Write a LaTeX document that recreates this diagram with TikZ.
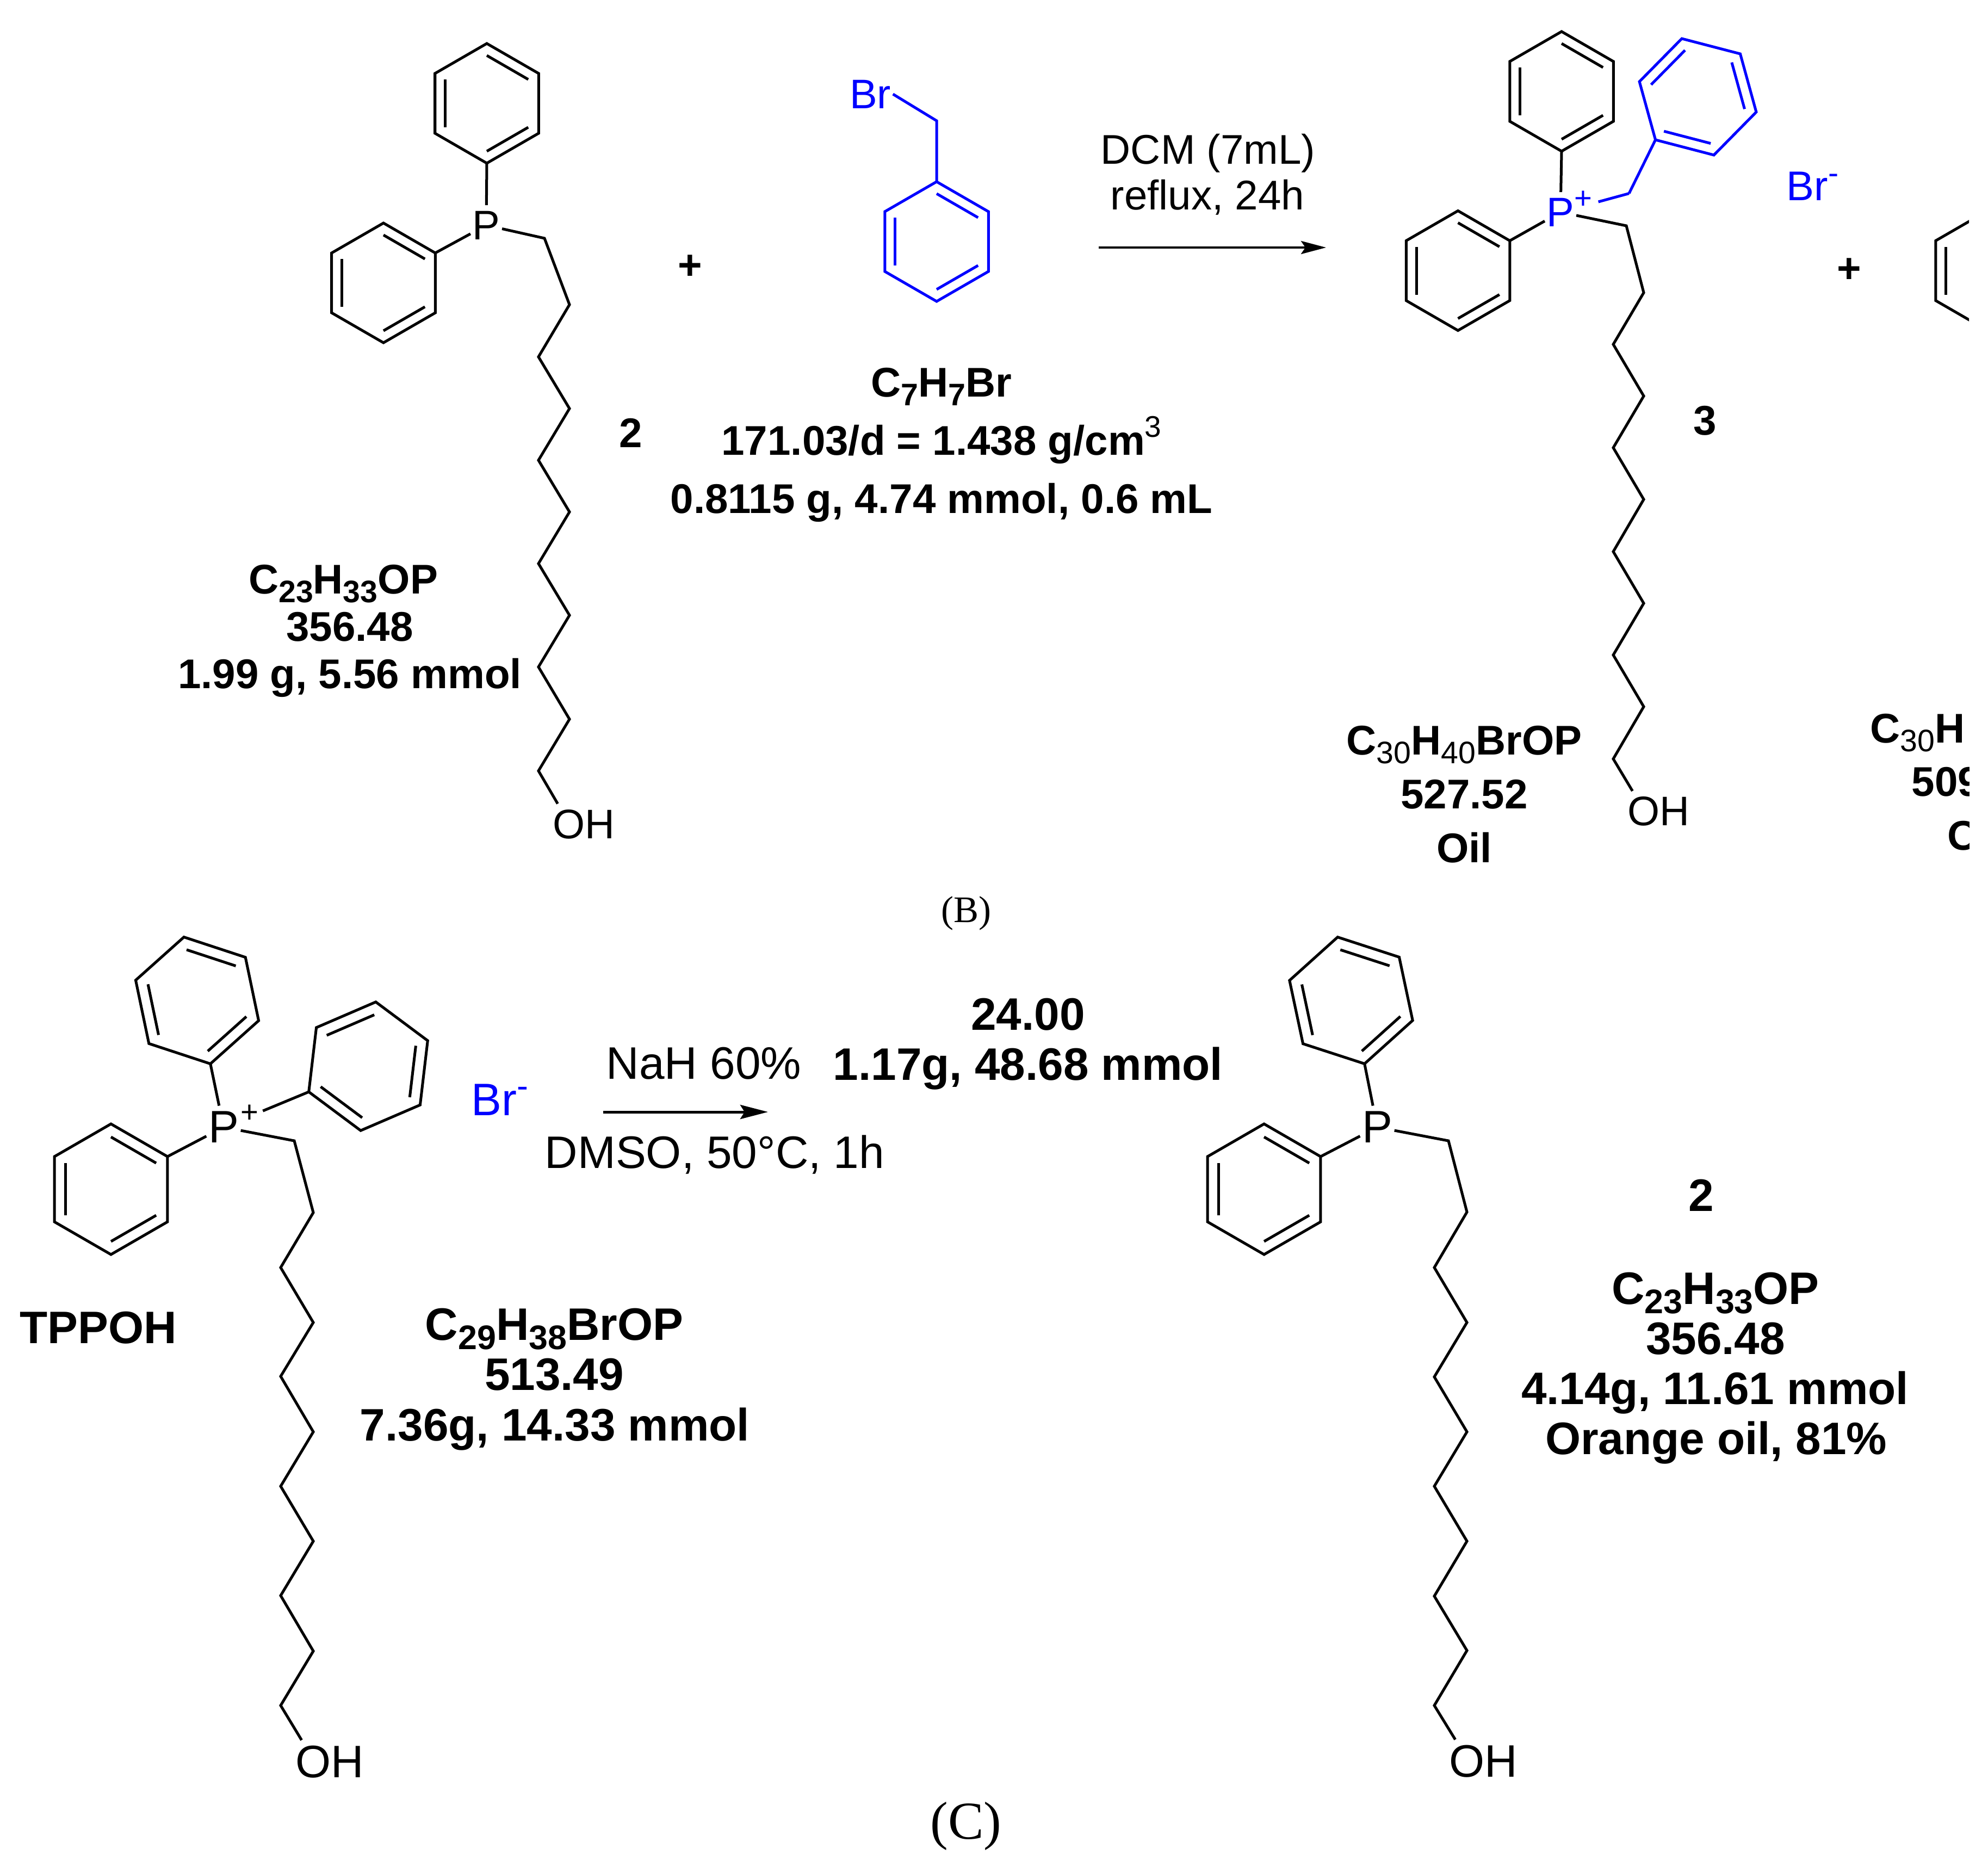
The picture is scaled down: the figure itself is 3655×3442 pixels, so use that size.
\documentclass[tikz,border=0pt]{standalone}
\usepackage{fontspec}
\usepackage{graphicx}
\setmainfont{Liberation Sans}
\newfontfamily\capfont{Liberation Serif}
\usetikzlibrary{arrows.meta}

\newcommand{\chemsub}[1]{\raisebox{-.21em}{\scalebox{.75}{#1}}}
\newcommand{\chemsup}[1]{\raisebox{.43em}{\scalebox{.72}{#1}}}
\newcommand{\chemminus}{\raisebox{.4em}{\scalebox{.75}{-}}}

\tikzset{
    bond/.style={line width=.05cm},
    pics/phenyl/.style={code={
        \foreach \i in {0,...,5}
            \coordinate (-\i) at ({-90+60*\i}:#1);
        \draw[bond] (-0) -- (-1) -- (-2) -- (-3) -- (-4) -- (-5) -- cycle;
        \foreach \a in {-90,30,150}
            \draw[bond] (\a:{.8*#1}) -- ({\a+60}:{.8*#1});
    }},
    pics/phenyl/.default=110
}

\begin{document}
\begin{tikzpicture}
[x=.01cm, y=-.01cm,
    atomb/.style={inner xsep=.03cm, inner ysep=.1cm, font=\fontsize{21.6}{25}\selectfont},
    atomc/.style={inner xsep=.03cm, inner ysep=.1cm, font=\fontsize{23.8}{28}\selectfont},
    charge/.style={inner sep=0pt, font=\fontsize{16}{18}\selectfont},
    txtb/.style={inner sep=0pt, anchor=base, font=\fontsize{21.7}{25}\selectfont},
    txtc/.style={inner sep=0pt, anchor=base, font=\fontsize{23.8}{28}\selectfont},
    boldb/.style={txtb, font=\fontsize{21.7}{25}\selectfont\bfseries},
    boldc/.style={txtc, font=\fontsize{23.8}{28}\selectfont\bfseries},
    arrow/.style={-{Stealth[length=.46cm, width=.24cm, inset=.08cm]}}]
\useasboundingbox (0,0) rectangle (3655,3442);
\clip (0,0) rectangle (3620,3442);

% scheme B, compound 2
\pic (ra1) at (895,190) {phenyl};
\pic (ra2) at (705,520) {phenyl};
\node [atomb] (pA) at (894,414) {P};
\node [atomb] (ohA) at (1073,1515) {OH};
\foreach \x/\y [count=\n] in {1001/438,1047/560,990/656,1047/751,990/846,1047/941,
    990/1036,1047/1131,990/1226,1047/1322,990/1417}
    \coordinate (a\n) at (\x,\y);
\draw [bond] (ra1-3) -- (pA);
\draw [bond] (ra2-1) -- (pA);
\draw [bond] (pA) -- (a1) -- (a2) -- (a3) -- (a4) -- (a5) -- (a6) -- (a7) -- (a8) -- (a9) -- (a10) -- (a11)
    -- ([xshift=.13cm]ohA.north west);
\node [boldb] (plusA) at (1269,513) {+};
\node [boldb] (numA) at (1160,822) {2};
\node [boldb] (formA) at (631,1091) {C\chemsub{23}H\chemsub{33}OP};
\node [boldb] (massA) at (643,1178) {356.48};
\node [boldb] (amountA) at (643,1265) {1.99 g, 5.56 mmol};

% benzyl bromide
\pic [blue] (rb) at (1722,444) {phenyl};
\coordinate (chb) at (1722,222);
\node [atomb, blue] (brb) at (1600,173) {Br};
\draw [bond, blue] (rb-0) -- (chb) -- (brb.east);
\node [boldb] (formB) at (1731,729.5) {C\chemsub{7}H\chemsub{7}Br};
\node [boldb] (massB) at (1731,836.5) {171.03/d = 1.438 g/cm\chemsup{\mdseries 3}};
\node [boldb] (amountB) at (1731,943) {0.8115 g, 4.74 mmol, 0.6 mL};

% first arrow
\coordinate (arB1) at (2020,455);
\coordinate (arB2) at (2438,455);
\draw [arrow, line width=.04cm] (arB1) -- (arB2);
\node [txtb] (condB1) at (2221,301) {DCM (7mL)};
\node [txtb] (condB2) at (2220,385) {reflux, 24h};

% compound 3
\pic (rc1) at (2871,168) {phenyl};
\pic (rc2) at (2680.5,497.5) {phenyl};
\pic [blue, rotate=-44.6] (rc3) at (3121.5,178) {phenyl=111};
\node [atomb, blue] (pB) at (2869,390) {P};
\node [charge, blue] (plusB) at (2911,367) {+};
\coordinate (chc) at (2995,355.6);
\node [atomb] (ohB) at (3049,1491.6) {OH};
\foreach \x/\y [count=\n] in {2990/415,3022/538,2966/633,3022/728,2966/823,3022/918,
    2966/1014,3022/1109,2966/1204,3022/1299,2966/1395}
    \coordinate (b\n) at (\x,\y);
\draw [bond] (rc1-3) -- (pB);
\draw [bond] (rc2-1) -- (pB);
\draw [bond, blue, shorten <=.42cm] (pB) -- (chc);
\draw [bond, blue] (chc) -- (rc3-3);
\draw [bond] (pB) -- (b1) -- (b2) -- (b3) -- (b4) -- (b5) -- (b6) -- (b7) -- (b8) -- (b9) -- (b10) -- (b11)
    -- ([xshift=.13cm]ohB.north west);
\node [txtb, blue, anchor=base west] (brB) at (3284,368) {Br\chemminus};
\node [boldb] (numB) at (3135,799) {3};
\node [boldb] (formC) at (2692,1387) {C\chemsub{\mdseries 30}H\chemsub{\mdseries 40}BrOP};
\node [boldb] (massC) at (2692,1486) {527.52};
\node [boldb] (amountC) at (2692,1585) {Oil};
\node [boldb] (plusC) at (3400,519) {+};

% cut off at the right edge
\pic (rd) at (3654,497.5) {phenyl};
\node [boldb, anchor=base west] (formD) at (3438,1365) {C\chemsub{\mdseries 30}H};
\node [boldb, anchor=base west] (massD) at (3514,1463) {509};
\node [boldb, anchor=base west] (amountD) at (3580,1562) {O};
\node [txtb, font=\fontsize{19.6}{22}\capfont] (capB) at (1776,1695) {(B)};

% scheme C, TPPOH
\pic [rotate=11.8] (re1) at (362.5,1839) {phenyl=119};
\pic (re2) at (204,2186) {phenyl=120};
\pic [rotate=53.3] (re3) at (677,1960) {phenyl=119};
\node [atomc] (pC) at (411,2072) {P};
\node [charge] (plusD) at (459,2047) {+};
\node [atomc] (ohC) at (606,3239) {OH};
\foreach \x/\y [count=\n] in {541/2097,576/2229,516/2330,576/2431,516/2530,576/2632,
    516/2732,576/2833,516/2933,576/3035,516/3135}
    \coordinate (c\n) at (\x,\y);
\draw [bond] (re1-3) -- (pC);
\draw [bond] (re2-1) -- (pC);
\draw [bond, shorten >=.44cm] (re3-5) -- (pC);
\draw [bond] (pC) -- (c1) -- (c2) -- (c3) -- (c4) -- (c5) -- (c6) -- (c7) -- (c8) -- (c9) -- (c10) -- (c11)
    -- ([xshift=.15cm]ohC.north west);
\node [txtc, blue, anchor=base west] (brC) at (866,2050.5) {Br\chemminus};
\node [boldc] (nameE) at (181,2469) {TPPOH};
\node [boldc] (formE) at (1019,2463) {C\chemsub{29}H\chemsub{38}BrOP};
\node [boldc] (massE) at (1019,2555) {513.49};
\node [boldc] (amountE) at (1020,2648) {7.36g, 14.33 mmol};

% second arrow
\coordinate (arC1) at (1109,2044);
\coordinate (arC2) at (1412,2044);
\draw [-{Stealth[length=.51cm, width=.26cm, inset=.08cm]}, line width=.05cm] (arC1) -- (arC2);
\node [txtc] (condC1) at (1294,1983) {NaH 60\%};
\node [txtc] (condC2) at (1314,2147) {DMSO, 50°C, 1h};
\node [boldc] (massF) at (1890,1893) {24.00};
\node [boldc] (amountF) at (1890,1985) {1.17g, 48.68 mmol};

% compound 2 again
\pic [rotate=12] (rg1) at (2484,1839) {phenyl=119};
\pic (rg2) at (2324,2186) {phenyl=120};
\node [atomc] (pD) at (2532,2072) {P};
\node [atomc] (ohD) at (2727,3238) {OH};
\foreach \x/\y [count=\n] in {2663/2097,2697/2228,2637/2330,2697/2431,2637/2531,2697/2632,
    2637/2732,2697/2833,2637/2934,2697/3034,2637/3135}
    \coordinate (d\n) at (\x,\y);
\draw [bond] (rg1-3) -- (pD);
\draw [bond] (rg2-1) -- (pD);
\draw [bond] (pD) -- (d1) -- (d2) -- (d3) -- (d4) -- (d5) -- (d6) -- (d7) -- (d8) -- (d9) -- (d10) -- (d11)
    -- ([xshift=.15cm]ohD.north west);
\node [boldc] (numG) at (3128,2226) {2};
\node [boldc] (formG) at (3154,2397) {C\chemsub{23}H\chemsub{33}OP};
\node [boldc] (massG) at (3154,2489) {356.48};
\node [boldc] (amountG) at (3153,2581) {4.14g, 11.61 mmol};
\node [boldc] (stateG) at (3155,2673) {Orange oil, 81\%};
\node [txtb, font=\fontsize{27.9}{32}\capfont] (capC) at (1776,3380) {(C)};
\end{tikzpicture}
\end{document}
